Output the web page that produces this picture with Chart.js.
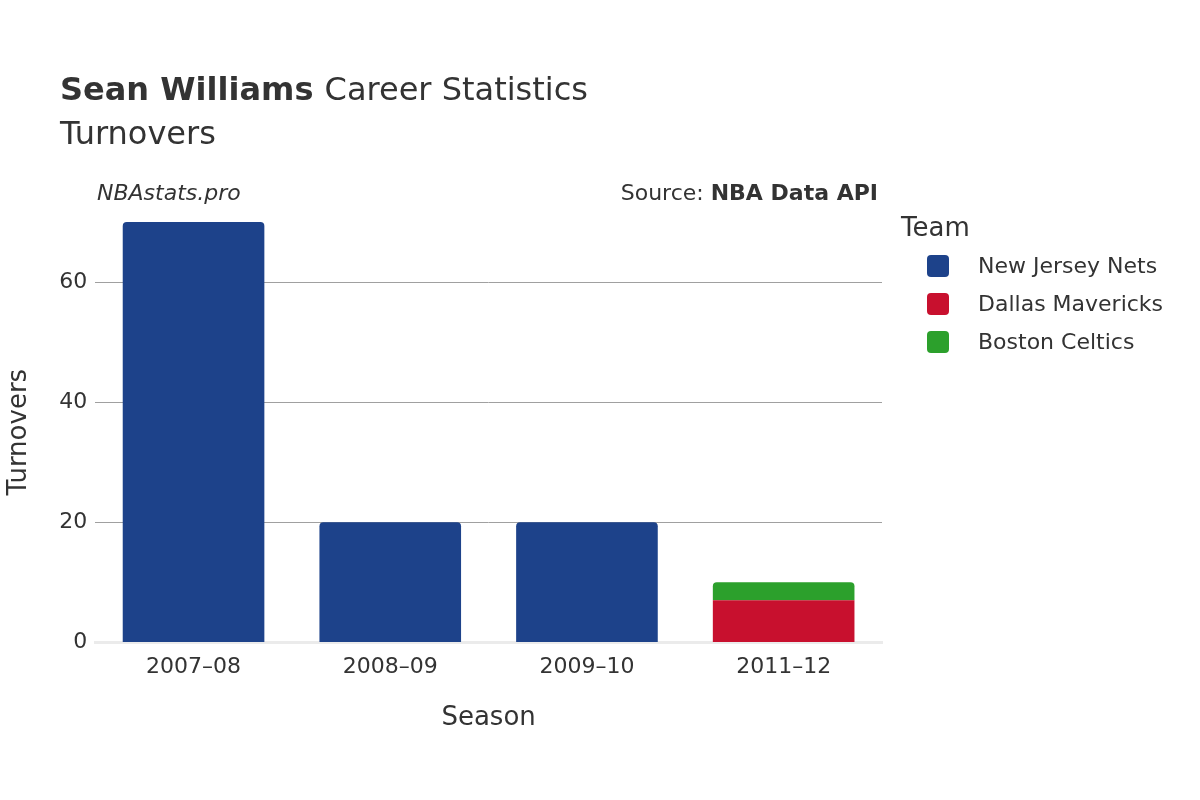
<!DOCTYPE html>
<html><head><meta charset="utf-8">
<script src="https://cdn.jsdelivr.net/npm/chart.js@4/dist/chart.umd.min.js"></script>
<style>html,body{margin:0;padding:0;background:#fff}canvas{display:block}</style>
</head><body>
<canvas id="c" width="1200" height="800" style="width:1200px;height:800px"></canvas>
<script>
const seasons = ["2007–08", "2008–09", "2009–10", "2011–12"];
const nets = [70, 20, 20, null];
const dallas = [null, null, null, 7];
const boston = [null, null, null, 3];
const teamNames = ["New Jersey Nets", "Dallas Mavericks", "Boston Celtics"];
const teamColors = ["#1d428a", "#c8102e", "#2ca02c"];
const yTicks = [0, 20, 40, 60];
const F = "'DejaVu Sans', sans-serif";

const overlay = {
  id: 'overlay',
  afterDraw(chart) {
    const ctx = chart.ctx;
    ctx.save();
    ctx.fillStyle = '#333';
    ctx.textBaseline = 'alphabetic';
    ctx.textAlign = 'left';
    ctx.font = `bold 32px ${F}`;
    ctx.fillText('Sean Williams', 60, 100);
    const w = ctx.measureText('Sean Williams ').width;
    ctx.font = `32px ${F}`;
    ctx.fillText('Career Statistics', 60 + w, 100);
    ctx.fillText('Turnovers', 60, 144);
    ctx.font = `italic 22px ${F}`;
    ctx.fillText('NBAstats.pro', 97, 200);
    ctx.textAlign = 'right';
    ctx.font = `bold 22px ${F}`;
    ctx.fillText('NBA Data API', 878, 200);
    const bw = ctx.measureText('NBA Data API').width;
    ctx.font = `22px ${F}`;
    ctx.fillText('Source: ', 878 - bw, 200);
    ctx.textAlign = 'left';
    ctx.font = `26px ${F}`;
    ctx.fillText('Team', 901, 236);
    ctx.font = `22px ${F}`;
    teamNames.forEach((n, i) => {
      const y = 266 + i * 38;
      ctx.fillStyle = teamColors[i];
      ctx.beginPath();
      ctx.roundRect(927, y - 11, 22, 22, 4);
      ctx.fill();
      ctx.fillStyle = '#333';
      ctx.textBaseline = 'middle';
      ctx.fillText(n, 978, y + 1);
    });
    ctx.restore();
  }
};

new Chart(document.getElementById('c'), {
  type: 'bar',
  data: {
    labels: seasons,
    datasets: [
      { label: teamNames[0], data: nets, backgroundColor: teamColors[0], borderRadius: 4, borderSkipped: 'bottom', borderColor: '#fff', borderWidth: 0 },
      { label: teamNames[1], data: dallas, backgroundColor: teamColors[1], borderRadius: 0, borderColor: '#fff', borderWidth: 0 },
      { label: teamNames[2], data: boston, backgroundColor: teamColors[2], borderRadius: 4, borderSkipped: 'bottom', borderColor: '#fff', borderWidth: {top:0,left:0,right:0,bottom:1} }
    ]
  },
  options: {
    responsive: false,
    animation: false,
    layout: { padding: { left: 0, right: 318, top: 222, bottom: 62 } },
    plugins: { legend: { display: false }, tooltip: { enabled: false } },
    scales: {
      x: {
        stacked: true,
        barPercentage: 0.8, categoryPercentage: 1,
        grid: { display: false },
        border: { color: '#ebebeb', width: 3 },
        ticks: { color: '#333', font: { family: F, size: 22 }, padding: 4 },
        title: { display: true, text: 'Season', color: '#333', font: { family: F, size: 26 }, padding: { top: 18 } }
      },
      y: {
        stacked: true,
        min: 0, max: 70,
        afterBuildTicks(s) { s.ticks = yTicks.map(v => ({ value: v })); },
        grid: { color: (c) => c.tick && c.tick.value === 0 ? 'rgba(0,0,0,0)' : '#a0a0a0', lineWidth: 1, drawTicks: true, tickLength: 6, tickColor: 'rgba(0,0,0,0)' },
        border: { display: false },
        ticks: { color: '#333', font: { family: F, size: 22 }, padding: 2 },
        title: { display: true, text: 'Turnovers', color: '#333', font: { family: F, size: 26 }, padding: { bottom: 22 } }
      }
    }
  },
  plugins: [overlay]
});
</script>
</body></html>
